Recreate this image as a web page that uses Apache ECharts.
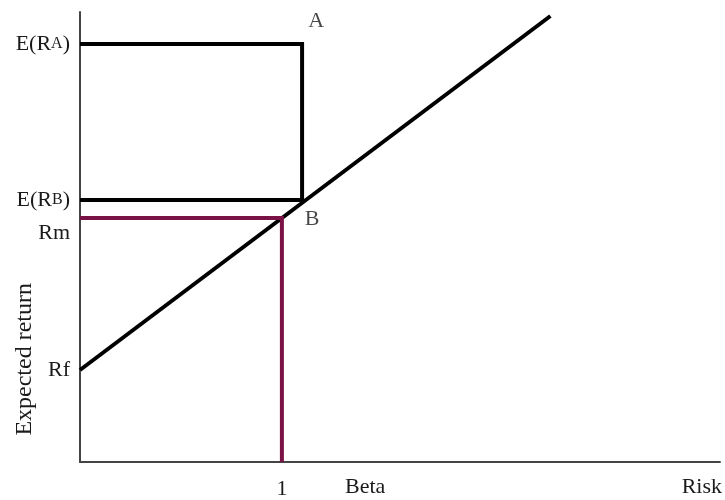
<!DOCTYPE html>
<html>
<head>
  <meta charset="utf-8">
  <title>Security Market Line</title>
  <script src="https://cdn.jsdelivr.net/npm/echarts@6/dist/echarts.min.js"></script>
  <style>
    html, body { margin: 0; padding: 0; background: #fff; }
    #chart { width: 725px; height: 500px; }
  </style>
</head>
<body>
<div id="chart"></div>
<script type="text/javascript">
// 数据（横轴 beta，纵轴期望收益）
var rf = 9.2;        // Rf
var rm = 24.4;       // Rm，beta = 1
var eRB = 26.2;      // E(RB)
var eRA = 41.8;      // E(RA)
var betaA = 1.1;     // A、B 的 beta
var smlEnd = [2.33, 44.6];
var yTickValues = [rf, rm, eRB, eRA];
var yTickNames = ['Rf', 'Rm', 'E(RB)', 'E(RA)'];
var xTickValues = [1];

var serif = 'Liberation Serif';
var ink = '#1a1a1a';
var maroon = '#7a1246';

var chart = echarts.init(document.getElementById('chart'));

chart.setOption({
  backgroundColor: '#fff',
  animation: false,
  grid: { left: 80, right: 5, top: 12, bottom: 38 },
  xAxis: {
    type: 'value', min: 0, max: 3.17,
    axisLine: { show: true, lineStyle: { color: '#444', width: 2 } },
    axisTick: { show: false },
    splitLine: { show: false },
    axisLabel: {
      customValues: xTickValues,
      margin: 16,
      fontFamily: serif, fontSize: 22, color: ink,
      formatter: function (v) { return String(v); }
    }
  },
  yAxis: {
    type: 'value', min: 0, max: 45,
    axisLine: { show: true, lineStyle: { color: '#444', width: 2 } },
    axisTick: { show: false },
    splitLine: { show: false },
    axisLabel: {
      customValues: yTickValues,
      margin: 10,
      fontFamily: serif, fontSize: 22, color: ink,
      formatter: function (v) {
        var n = yTickNames[yTickValues.indexOf(v)];
        if (n === 'E(RA)') return 'E(R{s|A})';
        if (n === 'E(RB)') return 'E(R{s|B})';
        if (n === 'Rm') return '{low|Rm}';
        return n;
      },
      rich: {
        s: { fontFamily: serif, fontSize: 16, color: ink },
        low: { fontFamily: serif, fontSize: 22, color: ink, padding: [30, 0, 0, 0] }
      }
    }
  },
  graphic: [
    { type: 'text', left: 345, top: 476,
      style: { text: 'Beta', font: '22px "Liberation Serif"', fill: ink } },
    { type: 'text', right: 3, top: 476,
      style: { text: 'Risk', font: '22px "Liberation Serif"', fill: ink } },
    { type: 'text', left: 13, top: 283, rotation: Math.PI / 2,
      style: { text: 'Expected return', font: '24px "Liberation Serif"', fill: ink } }
  ],
  series: [
    { // SML
      type: 'line', symbol: 'none', silent: true,
      lineStyle: { color: '#000', width: 4 },
      data: [[0, rf], smlEnd]
    },
    { // A 点方框
      type: 'line', symbol: 'none', silent: true,
      lineStyle: { color: '#000', width: 4, join: 'miter' },
      data: [[0, eRA], [betaA, eRA], [betaA, eRB], [0, eRB]]
    },
    { // 市场组合
      type: 'line', symbol: 'none', silent: true,
      lineStyle: { color: maroon, width: 4, join: 'miter' },
      data: [[0, rm], [1, rm], [1, 0]]
    },
    { // A、B 标签
      type: 'scatter', symbolSize: 0, silent: true,
      label: {
        show: true, fontFamily: serif, fontSize: 22, color: ink,
        formatter: function (p) { return p.data.name; }
      },
      data: [
        { name: 'A', value: [betaA, eRA], label: { position: 'inside', offset: [14, -23] } },
        { name: 'B', value: [betaA, eRB], label: { position: 'inside', offset: [10, 19] } }
      ]
    }
  ]
});
</script>
</body>
</html>
